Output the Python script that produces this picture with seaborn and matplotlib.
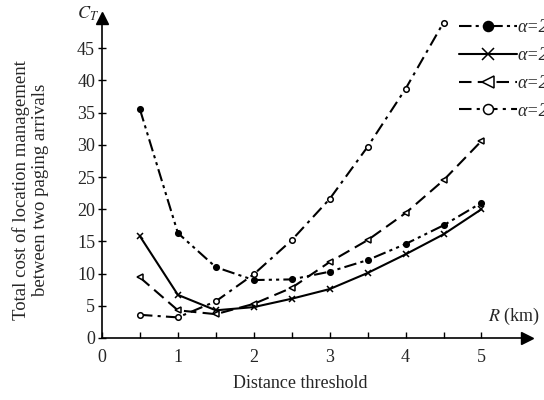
import matplotlib
matplotlib.use("Agg")
import matplotlib.pyplot as plt
import seaborn as sns
import pandas as pd

# distance threshold R (km)
r_km = [0.5, 1.0, 1.5, 2.0, 2.5, 3.0, 3.5, 4.0, 4.5, 5.0]

# total cost C_T per series
cost_a = [35.5, 16.3, 11.0, 9.0, 9.1, 10.3, 12.1, 14.6, 17.5, 21.0]
cost_b = [15.8, 6.7, 4.3, 4.8, 6.1, 7.6, 10.1, 13.0, 16.1, 20.0]
cost_c = [9.4, 4.3, 3.7, 5.3, 7.8, 11.8, 15.2, 19.4, 24.5, 30.6]
cost_d = [3.6, 3.2, 5.7, 9.9, 15.2, 21.6, 29.7, 38.7, 49.0]

labels = ["α=2", "α=20", "α=200", "α=2000"]
x_ticks = [0, 1, 2, 3, 4, 5]
y_ticks = [0, 5, 10, 15, 20, 25, 30, 35, 40, 45]

sns.set_theme(style="white")
plt.rcParams["font.family"] = ["Liberation Serif", "DejaVu Serif"]
plt.rcParams["mathtext.fontset"] = "stix"

fig = plt.figure(figsize=(5.44, 4.0), dpi=100)
ax = fig.add_axes([102 / 544, 1 - 338 / 400, 425 / 544, 320 / 400])

styles = [
    dict(ls=(0, (6, 2, 1.5, 2, 1.5, 2)), marker="o", mfc="black", ms=4),
    dict(ls="-", marker="x", mfc="black", ms=4.5),
    dict(ls=(0, (6, 3)), marker="<", mfc="white", ms=4.5),
    dict(ls=(0, (6, 2.5, 1.5, 2.5)), marker="o", mfc="white", ms=4),
]
series = [cost_a, cost_b, cost_c, cost_d]
for vals, lab, st in zip(series, labels, styles):
    df = pd.DataFrame({"R": r_km[:len(vals)], "C": vals})
    sns.lineplot(data=df, x="R", y="C", ax=ax, color="black", lw=1.5,
                 linestyle=st["ls"], marker=st["marker"], mfc=st["mfc"],
                 mec="black", mew=1.1, ms=st["ms"], label=lab)

ax.set_xlim(0, 5.6)
ax.set_ylim(0, 49.7)
ax.set_xticks(x_ticks)
ax.set_xticks([0.5, 1.5, 2.5, 3.5, 4.5], minor=True)
ax.set_yticks(y_ticks)
ax.tick_params(axis="x", which="both", direction="in", length=4, width=1,
               color="black", labelsize=13, pad=8, bottom=True)
ax.tick_params(axis="y", direction="inout", length=6, width=1,
               color="black", labelsize=13, pad=2, left=True)
for sp in ["top", "right"]:
    ax.spines[sp].set_visible(False)
for sp in ["left", "bottom"]:
    ax.spines[sp].set_color("black")
    ax.spines[sp].set_linewidth(1.2)
ax.plot(1, 0, ">", color="black", ms=9, transform=ax.transAxes, clip_on=False)
ax.plot(0, 1, "^", color="black", ms=9, transform=ax.transAxes, clip_on=False)

ax.set_xlabel("")
ax.set_ylabel("")
fig.text(300 / 544, 1 - 383 / 400, "Distance threshold", ha="center", va="center", fontsize=13)
fig.text(31 / 544, 1 - 190 / 400, "Total cost of location management\nbetween two paging arrivals",
         ha="center", va="center", rotation=90, fontsize=13.5, linespacing=1.15)
fig.text(488 / 544, 1 - 316 / 400, r"$R$ (km)", ha="left", va="center", fontsize=13)
fig.text(99 / 544, 1 - 14 / 400, r"$C_T$", ha="right", va="center", fontsize=13)

leg = ax.legend(loc="upper left", bbox_to_anchor=(452 / 544, 1 - 12 / 400),
                bbox_transform=fig.transFigure, frameon=False, handlelength=3.2,
                fontsize=13, markerscale=1.8, labelspacing=0.6, handletextpad=0.05,
                borderaxespad=0)
for t in leg.get_texts():
    t.set_fontstyle("italic")

fig.savefig("out.png", dpi=100)
